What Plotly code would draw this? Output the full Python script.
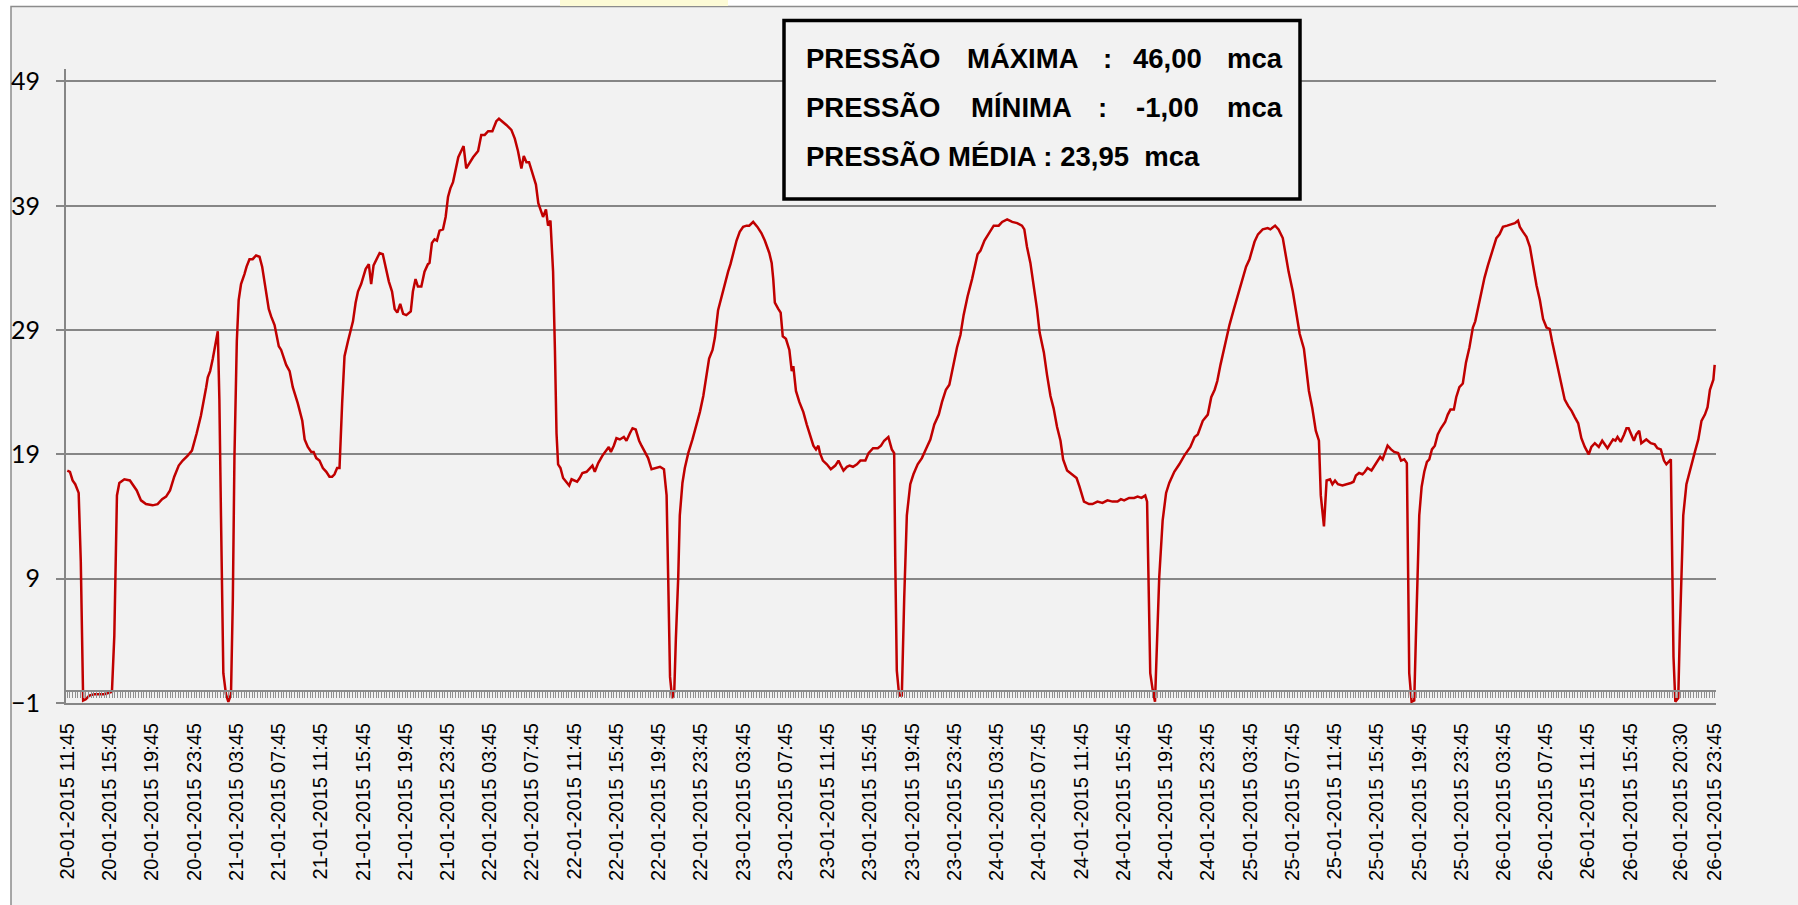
import plotly.graph_objects as go
import pandas as pd

# ---------------- data ----------------
# sample index = number of 15-minute steps since 20-01-2015 11:45
sample_idx = [
    0, 1.0, 2.0, 3.0, 4.3, 5.1, 6.0, 7.0, 8.3, 10.2, 14.0, 15.3, 16.9, 17.8, 18.8, 19.7, 21.6, 23.7, 24.7, 26.3,
    27.9, 29.8, 32.3, 34.2, 35.9, 37.4, 38.9, 40.5, 42.2, 43.7, 45.6, 47.2, 49.0, 50.6, 52.6, 53.2, 54.1, 55.1,
    57.0, 57.6, 58.2, 59.1, 60.1, 61.0, 62.0, 62.7, 63.3, 64.2, 64.9, 65.8, 67.1, 67.9, 69.0, 70.2, 71.5, 72.8,
    73.8, 75.1, 76.3, 77.2, 78.5, 80.1, 81.0, 82.9, 84.2, 85.4, 87.3, 89.0, 89.9, 91.1, 92.4, 93.3, 94.3, 95.5,
    96.8, 98.1, 99.3, 100.3, 101.2, 102.2, 103.1, 104.1, 105.0, 106.3, 107.5, 108.2, 109.2, 110.1, 111.3, 113.0,
    114.2, 115.1, 116.0, 117.0, 118.3, 119.5, 120.8, 121.8, 123.0, 124.0, 125.0, 126.1, 127.2, 128.4, 130.1,
    130.9, 131.9, 132.8, 134.1, 135.3, 136.6, 137.2, 138.1, 139.1, 140.0, 141.0, 142.3, 143.3, 144.2, 145.1,
    146.1, 147.1, 148.1, 149.2, 150.1, 151.1, 152.2, 153.7, 155.6, 156.8, 158.1, 159.4, 161.0, 162.5, 163.5,
    164.8, 166.3, 168.2, 169.5, 170.7, 172.0, 172.9, 173.9, 174.9, 176.5, 177.5, 178.4, 179.6, 180.2, 181.3,
    182.1, 183.0, 184.0, 184.7, 185.3, 185.9, 186.8, 187.8, 188.8, 190.1, 191.0, 192.2, 193.1, 194.1, 195.1,
    196.7, 197.9, 198.9, 199.8, 201.1, 202.7, 204.2, 205.1, 205.9, 207.0, 208.0, 209.3, 210.8, 211.8, 213.1,
    214.1, 215.3, 216.6, 217.5, 218.8, 220.0, 221.3, 222.6, 224.5, 226.0, 227.0, 227.6, 228.3, 229.1, 229.9,
    230.5, 231.4, 232.0, 233.0, 233.9, 235.2, 236.8, 238.3, 239.6, 240.9, 242.1, 243.1, 244.4, 245.3, 246.5,
    247.8, 249.0, 250.3, 251.2, 252.2, 253.5, 254.7, 256.0, 257.3, 258.3, 259.8, 261.4, 262.9, 264.2, 265.9,
    266.8, 267.4, 268.0, 269.3, 270.2, 271.0, 272.2, 273.5, 274.4, 275.0, 276.0, 277.3, 278.8, 280.1, 281.3,
    282.6, 283.6, 284.5, 285.1, 286.2, 287.7, 289.2, 290.9, 292.1, 293.0, 294.0, 295.3, 296.3, 297.6, 299.1,
    300.4, 302.3, 303.5, 305.2, 307.0, 308.2, 309.4, 311.0, 312.3, 313.2, 313.6, 314.2, 315.1, 316.1, 317.0,
    318.0, 319.3, 320.5, 322.1, 323.7, 325.6, 326.9, 328.4, 330.1, 331.3, 332.8, 334.1, 335.5, 337.0, 338.3,
    339.5, 341.0, 342.7, 344.8, 345.9, 347.4, 349.0, 350.9, 352.8, 354.1, 356.0, 357.9, 359.8, 361.6, 362.5,
    363.5, 364.8, 366.1, 367.3, 368.3, 369.9, 371.1, 372.4, 373.6, 374.9, 376.2, 377.2, 378.7, 380.3, 382.3,
    383.4, 385.1, 387.0, 388.3, 390.2, 392.1, 394.0, 395.9, 397.8, 399.1, 400.3, 402.2, 404.1, 405.4, 406.9,
    408.3, 409.0, 409.5, 410.2, 411.1, 412.0, 412.8, 413.6, 414.9, 416.2, 417.4, 419.3, 421.2, 423.1, 425.4,
    427.0, 428.2, 430.1, 432.0, 433.3, 434.6, 435.6, 436.8, 438.4, 440.2, 441.9, 443.4, 445.3, 446.5, 447.8,
    449.7, 451.0, 452.8, 454.7, 455.7, 457.5, 458.8, 460.4, 461.7, 462.6, 464.2, 465.5, 466.8, 468.4, 469.4,
    470.3, 471.6, 472.9, 474.1, 474.8, 476.0, 477.0, 478.3, 479.2, 480.2, 481.3, 483.0, 484.9, 486.2, 487.2,
    488.1, 489.3, 490.6, 491.5, 492.5, 494.0, 495.3, 496.3, 497.3, 498.2, 499.1, 500.1, 501.4, 502.6, 504.1,
    505.2, 506.4, 507.4, 507.9, 508.3, 509.2, 510.2, 510.8, 511.4, 512.1, 513.0, 514.0, 515.0, 515.9, 516.9,
    518.0, 519.1, 520.3, 521.9, 522.9, 523.9, 525.2, 526.1, 527.3, 528.6, 529.8, 531.1, 532.4, 533.3, 534.3,
    535.5, 536.8, 538.1, 539.6, 541.3, 542.5, 543.8, 545.4, 547.0, 548.3, 549.5, 550.2, 551.4, 552.7, 554.0,
    555.2, 556.5, 557.8, 559.0, 560.3, 561.5, 562.4, 564.1, 565.7, 567.2, 568.5, 569.8, 571.0, 572.3, 573.5,
    574.8, 576.3, 577.3, 578.6, 580.1, 581.4, 583.4, 585.5, 586.4, 587.2, 588.4, 589.7, 590.6, 591.4, 592.5,
    593.4, 594.3, 595.4, 596.2, 598.1, 599.8, 601.3, 602.3, 603.6, 604.8, 605.7, 607.4, 607.9, 608.4, 609.1,
    610.2, 610.8, 611.4, 612.1, 613.3, 615.0, 616.5, 617.8, 619.0, 620.3, 621.3, 622.2, 623.5, 624.0,
]
pressure = [
    17.7, 17.6, 16.9, 16.6, 15.9, 10.4, -0.8, -0.7, -0.4, -0.3, -0.3, -0.2, -0.1, 4.4, 15.7, 16.7, 17.0, 16.9, 16.6, 16.1,
    15.3, 15.0, 14.9, 15.0, 15.4, 15.6, 16.1, 17.2, 18.1, 18.5, 18.9, 19.3, 20.7, 22.1, 24.4, 25.2, 25.7, 26.7,
    28.9, 23.4, 14.1, 1.4, -0.3, -0.9, -0.3, 7.4, 18.7, 28.1, 31.4, 32.7, 33.5, 34.1, 34.7, 34.7, 35.0, 34.9,
    34.1, 32.4, 30.7, 30.1, 29.4, 27.7, 27.4, 26.2, 25.7, 24.4, 23.1, 21.7, 20.2, 19.6, 19.2, 19.2, 18.7, 18.5,
    17.9, 17.6, 17.2, 17.2, 17.4, 17.9, 17.9, 23.1, 26.9, 28.1, 29.2, 29.7, 31.2, 32.1, 32.7, 33.9,
    34.3, 32.7, 34.2, 34.7, 35.2, 35.1, 33.9, 32.9, 32.1, 30.7, 30.4, 31.1, 30.3, 30.2, 30.5,
    32.1, 33.1, 32.5, 32.5, 33.7, 34.3, 34.4, 36.0, 36.3, 36.2, 37.0, 37.1, 38.1, 39.7, 40.4,
    40.9, 41.9, 42.9, 43.4, 43.8, 42.0, 42.4, 42.9, 43.4, 44.7, 44.7, 45.0, 45.0, 45.8, 46.0,
    45.8, 45.5, 45.1, 44.4, 43.4, 42.0, 43.0, 42.5, 42.5, 41.4, 40.7, 39.2, 38.4, 38.1, 38.7,
    37.4, 37.8, 33.7, 27.4, 20.7, 18.2, 17.9, 17.1, 16.8, 16.5, 17.0, 16.9, 16.8, 17.1, 17.5,
    17.6, 17.9, 18.1, 17.6, 18.3, 18.9, 19.4, 19.6, 19.2, 19.7, 20.3, 20.2, 20.4, 20.1, 20.7,
    21.1, 21.0, 20.1, 19.7, 19.2, 18.7, 17.8, 17.9, 18.0, 17.8, 15.7, 9.1, 1.1, -0.6, -0.1,
    4.1, 9.1, 14.1, 16.7, 17.9, 19.1, 20.2, 21.4, 22.4, 23.7, 25.4, 26.7, 27.4, 28.4, 30.6,
    31.7, 32.7, 33.7, 34.3, 35.2, 36.2, 36.9, 37.3, 37.4, 37.4, 37.7, 37.3, 36.8, 36.2, 35.2,
    34.4, 33.1, 31.2, 30.7, 30.4, 28.5, 28.3, 27.4, 25.7, 26.1, 24.1, 23.2, 22.4, 21.4, 20.6,
    19.7, 19.4, 19.7, 19.1, 18.5, 18.2, 17.8, 18.1, 18.5, 18.1, 17.7, 18.0, 18.1, 18.0, 18.2,
    18.5, 18.5, 19.1, 19.5, 19.5, 19.7, 20.1, 20.4, 19.4, 19.1, 10.7, 1.6, -0.4, -0.4, 7.4,
    14.1, 16.6, 17.4, 18.2, 18.7, 19.6, 20.2, 21.4, 22.2, 23.2, 24.2, 24.6, 26.2, 27.6, 28.6,
    30.2, 31.7, 33.1, 35.1, 35.4, 36.2, 36.8, 37.4, 37.4, 37.7, 37.9, 37.7, 37.6, 37.4, 37.1,
    35.7, 34.4, 32.6, 30.7, 28.8, 27.2, 25.4, 23.7, 22.7, 21.2, 20.1, 18.6, 17.7, 17.4, 17.1,
    16.4, 15.2, 15.0, 15.0, 15.2, 15.1, 15.3, 15.2, 15.2, 15.4, 15.3, 15.5, 15.5, 15.6, 15.5,
    15.7, 15.2, 9.1, 1.4, 0.1, -0.9, 4.1, 9.1, 13.7, 15.9, 16.7, 17.6, 18.2, 18.9, 19.6,
    20.4, 20.6, 21.7, 22.2, 23.6, 24.2, 24.9, 26.2, 27.7, 29.4, 30.7, 31.8, 33.1, 34.1, 34.7,
    36.1, 36.7, 37.1, 37.2, 37.1, 37.4, 37.1, 36.4, 34.7, 33.7, 32.1, 30.4, 28.7, 27.5, 25.7,
    24.1, 22.7, 20.9, 20.1, 15.7, 13.2, 16.9, 17.0, 16.6, 16.9, 16.6, 16.5, 16.6, 16.7, 16.8,
    17.3, 17.5, 17.4, 17.6, 17.9, 17.7, 18.1, 18.4, 18.8, 18.6, 19.2, 19.7, 19.4, 19.2, 19.1,
    18.5, 18.6, 18.3, 9.1, 1.4, -0.9, -0.8, 4.1, 9.1, 14.1, 16.4, 17.6, 18.4, 18.6, 19.4,
    19.7, 20.6, 21.1, 21.6, 22.2, 22.6, 22.6, 23.6, 24.4, 24.7, 26.4, 27.6, 29.2, 29.7, 30.7,
    32.1, 33.2, 34.2, 35.2, 36.4, 36.7, 37.3, 37.4, 37.5, 37.6, 37.8, 37.3, 36.9, 36.5, 35.7,
    34.2, 32.6, 31.4, 29.9, 29.2, 29.1, 28.1, 26.4, 24.9, 23.4, 22.9, 22.5, 22.0, 21.5, 20.3,
    19.6, 19.0, 19.6, 19.9, 19.6, 20.1, 19.5, 20.2, 20.1, 20.4, 20.0, 20.6, 21.1, 21.1, 20.6,
    20.1, 20.6, 20.9, 19.9, 20.2, 19.9, 19.8, 19.5, 19.4, 18.5, 18.2, 18.6, 10.7, 2.7, -0.9,
    -0.6, 4.7, 10.1, 14.1, 16.6, 18.1, 19.2, 20.2, 21.7, 22.2, 22.8, 24.2, 25.0, 26.2,
]

tick_labels = [
    "20-01-2015 11:45", "20-01-2015 15:45", "20-01-2015 19:45", "20-01-2015 23:45",
    "21-01-2015 03:45", "21-01-2015 07:45", "21-01-2015 11:45", "21-01-2015 15:45", "21-01-2015 19:45", "21-01-2015 23:45",
    "22-01-2015 03:45", "22-01-2015 07:45", "22-01-2015 11:45", "22-01-2015 15:45", "22-01-2015 19:45", "22-01-2015 23:45",
    "23-01-2015 03:45", "23-01-2015 07:45", "23-01-2015 11:45", "23-01-2015 15:45", "23-01-2015 19:45", "23-01-2015 23:45",
    "24-01-2015 03:45", "24-01-2015 07:45", "24-01-2015 11:45", "24-01-2015 15:45", "24-01-2015 19:45", "24-01-2015 23:45",
    "25-01-2015 03:45", "25-01-2015 07:45", "25-01-2015 11:45", "25-01-2015 15:45", "25-01-2015 19:45", "25-01-2015 23:45",
    "26-01-2015 03:45", "26-01-2015 07:45", "26-01-2015 11:45", "26-01-2015 15:45", "26-01-2015 20:30", "26-01-2015 23:45",
]
y_ticks = [-1, 9, 19, 29, 39, 49]
n_samples = 625

stats_line1 = ["PRESSÃO", "MÁXIMA", ":", "46,00", "mca"]
stats_line2 = ["PRESSÃO", "MÍNIMA", ":", "-1,00", "mca"]
stats_line3 = "PRESSÃO MÉDIA : 23,95\u00a0\u00a0mca"

# ---------------- layout helpers ----------------
W, H = 1798, 905
ML, MR, MT, MB = 66, 82, 69, 202
PW, PH = W - ML - MR, H - MT - MB


def px_x(px):
    return (px - ML) / PW


def px_y(py):
    return (H - MB - py) / PH


t0 = pd.Timestamp("2015-01-20 11:45")
tick_pos = [(pd.to_datetime(s, format="%d-%m-%Y %H:%M") - t0) / pd.Timedelta(minutes=15) for s in tick_labels]

GRID = "#868686"
xr = [-0.5, n_samples - 0.5]
yr = [-1, 50]

fig = go.Figure()
fig.add_trace(go.Scatter(x=sample_idx, y=pressure, mode="lines",
                         line=dict(color="#c00000", width=2.5),
                         showlegend=False, hoverinfo="x+y"))
fig.add_trace(go.Scatter(x=[0], y=[None], xaxis="x2", yaxis="y", mode="lines",
                         showlegend=False, hoverinfo="skip"))

fig.update_layout(
    template="none",
    width=W, height=H, autosize=False,
    margin=dict(l=ML, r=MR, t=MT, b=MB, pad=0),
    paper_bgcolor="white", plot_bgcolor="rgba(0,0,0,0)",
    xaxis=dict(range=xr, tickmode="array", tickvals=tick_pos, ticktext=tick_labels,
               tickangle=-90, showgrid=False, zeroline=False, automargin=False,
               showline=True, linecolor=GRID, linewidth=2, ticks="",
               ticklabelstandoff=10,
               tickfont=dict(family="Liberation Sans, Arial", size=20, color="black")),
    xaxis2=dict(overlaying="x", anchor="free", position=(0 - yr[0]) / (yr[1] - yr[0]), side="bottom",
                range=xr, tickmode="linear", tick0=0, dtick=1, ticks="outside", ticklen=6,
                tickwidth=1, tickcolor="#8f8f8f", showticklabels=False, showgrid=False,
                zeroline=False, showline=True, linecolor="#8a8a8a", linewidth=2, automargin=False),
    yaxis=dict(range=yr, tickmode="array", tickvals=y_ticks, showgrid=True,
               gridcolor=GRID, gridwidth=2, zeroline=False, showline=True, automargin=False,
               linecolor=GRID, linewidth=2, ticks="outside", ticklen=8, tickwidth=2,
               tickcolor=GRID, ticklabelstandoff=11,
               tickfont=dict(family="Lato, Open Sans", size=25, color="black")),
)

shapes = [
    # chart area frame
    dict(type="rect", xref="paper", yref="paper", layer="below",
         x0=px_x(11), x1=px_x(1805), y0=px_y(915), y1=px_y(6.5),
         fillcolor="#f2f2f2", line=dict(color="#8c8c8c", width=1.5)),
    # faint yellow cell highlight above the frame
    dict(type="rect", xref="paper", yref="paper", layer="below",
         x0=px_x(560), x1=px_x(728), y0=px_y(6), y1=px_y(0),
         fillcolor="#fdfbd6", line=dict(width=0)),
    # statistics box
    dict(type="rect", xref="paper", yref="paper", layer="above",
         x0=px_x(784), x1=px_x(1300), y0=px_y(199), y1=px_y(20.5),
         fillcolor="#f2f2f2", line=dict(color="black", width=3.5)),
]

annots = []
font_box = dict(family="Liberation Sans, Arial", size=27.5, color="black")
x1_pos = [805, 965.6, 1101.8, 1132, 1226]
x2_pos = [805, 970, 1097, 1135, 1226]
for words, xs, yc in [(stats_line1, x1_pos, 58.5), (stats_line2, x2_pos, 107.5)]:
    for w, xp in zip(words, xs):
        annots.append(dict(text="<b>%s</b>" % w, x=px_x(xp), y=px_y(yc), xref="paper", yref="paper",
                           xanchor="left", yanchor="middle", showarrow=False, font=font_box,
                           borderpad=0))
annots.append(dict(text="<b>%s</b>" % stats_line3, x=px_x(805), y=px_y(156.5), xref="paper", yref="paper",
                   xanchor="left", yanchor="middle", showarrow=False, font=font_box, borderpad=0))

fig.update_layout(shapes=shapes, annotations=annots)
fig.write_html("out.html", config={"displayModeBar": False},
               post_script="document.body.style.margin='0';document.body.style.padding='0';")
